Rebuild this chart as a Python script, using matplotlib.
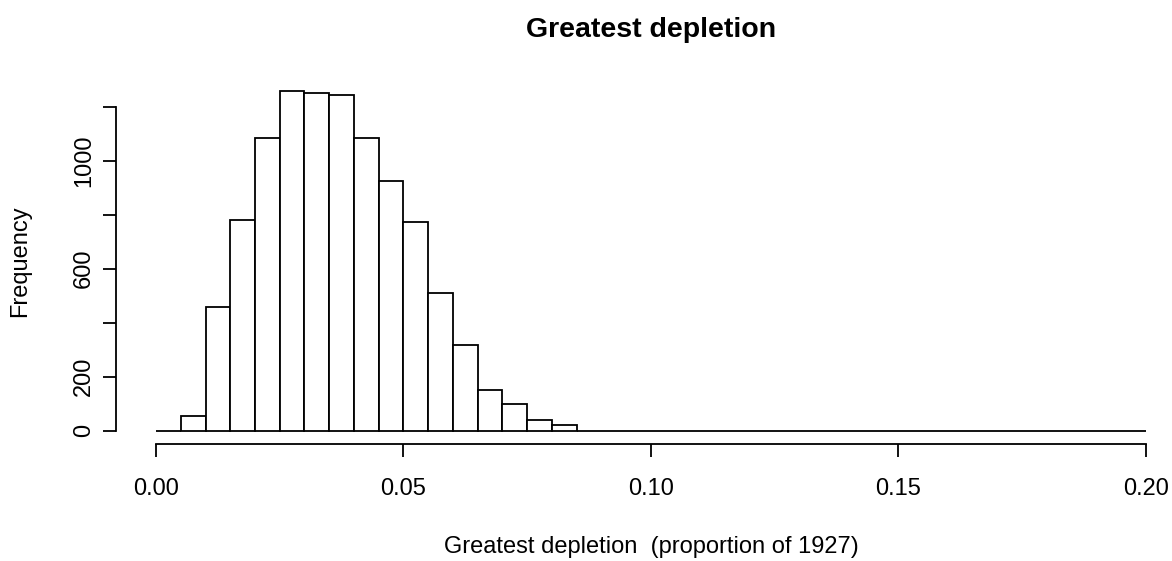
import numpy as np
import matplotlib
matplotlib.use('Agg')
import matplotlib.pyplot as plt

# histogram of greatest depletion, bins of width 0.005 from 0 to 0.2
bin_edges = np.round(np.arange(0, 0.2001, 0.005), 4)
counts = [0, 55, 457, 781, 1085, 1257, 1251, 1244, 1085, 926, 773, 511, 317,
          152, 98, 41, 21, 0, 0, 0, 0, 0, 0, 0, 0, 0, 0, 0, 0, 0, 0, 0, 0,
          0, 0, 0, 0, 0, 0, 0]
xticks = [0.00, 0.05, 0.10, 0.15, 0.20]
xtick_labels = ['0.00', '0.05', '0.10', '0.15', '0.20']
yticks = [0, 200, 400, 600, 800, 1000, 1200]
# R drops labels that would overlap
ytick_labels = ['0', '200', '', '600', '', '1000', '']

plt.rcParams['font.family'] = ['Liberation Sans', 'DejaVu Sans']
W, H = 1172, 561
fig = plt.figure(figsize=(W / 100, H / 100), dpi=100)

# plot region in pixels (R style 4% padding on usr coords)
left_px, right_px, top_px, bot_px = 116.4, 1185.6, 77.7, 444.3
ax = fig.add_axes([left_px / W, 1 - bot_px / H,
                   (right_px - left_px) / W, (bot_px - top_px) / H])

widths = np.diff(bin_edges)
ax.bar(bin_edges[:-1], counts, width=widths, align='edge',
       facecolor='white', edgecolor='black', linewidth=1.3)

xr = bin_edges[-1] - bin_edges[0]
ax.set_xlim(bin_edges[0] - 0.04 * xr, bin_edges[-1] + 0.04 * xr)
ymax = max(counts)
ax.set_ylim(-0.04 * ymax, ymax * 1.04)

for s in ['top', 'right']:
    ax.spines[s].set_visible(False)
ax.spines['left'].set_bounds(yticks[0], yticks[-1])
ax.spines['bottom'].set_bounds(xticks[0], xticks[-1])
for s in ['left', 'bottom']:
    ax.spines[s].set_linewidth(1.3)

ax.set_xticks(xticks)
ax.set_xticklabels(xtick_labels)
ax.set_yticks(yticks)
ax.set_yticklabels(ytick_labels, rotation=90, va='center')
ax.tick_params(axis='both', length=9.5, width=1.3, labelsize=17)
ax.tick_params(axis='x', pad=15)
ax.tick_params(axis='y', pad=6)

cx = (left_px + right_px) / 2 / W
fig.text(cx, 1 - 36.7 / H, 'Greatest depletion', ha='center', va='baseline',
         fontsize=20.5, fontweight='bold')
fig.text(cx, 1 - 553 / H, 'Greatest depletion  (proportion of 1927)',
         ha='center', va='baseline', fontsize=17)
fig.text(9 / W, 1 - (bot_px + top_px) / 2 / H, 'Frequency', rotation=90,
         ha='left', va='center', fontsize=17)

fig.savefig('out.png', dpi=100)
